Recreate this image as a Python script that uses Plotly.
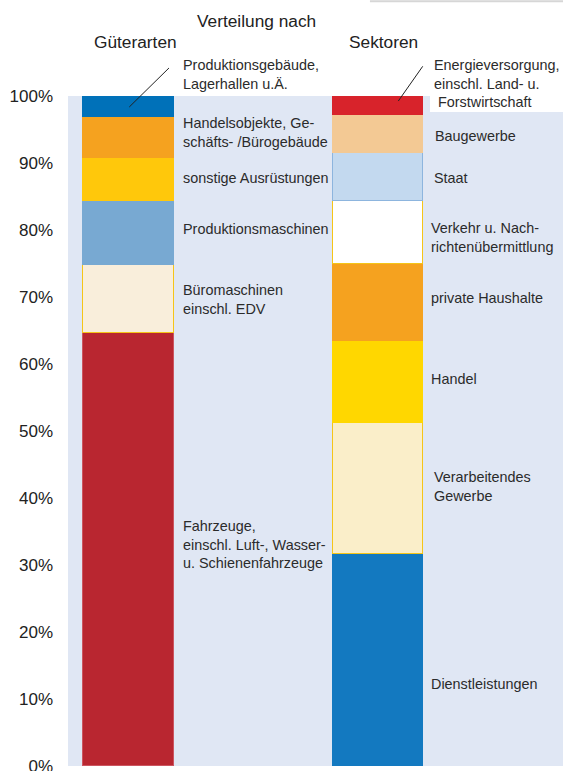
import plotly.graph_objects as go

# ---------------- data ----------------
bars = ["Güterarten", "Sektoren"]

left_labels = [
    "Fahrzeuge,<br>einschl. Luft-, Wasser-<br>u. Schienenfahrzeuge",
    "Büromaschinen<br>einschl. EDV",
    "Produktionsmaschinen",
    "sonstige Ausrüstungen",
    "Handelsobjekte, Ge-<br>schäfts- /Bürogebäude",
    "Produktionsgebäude,<br>Lagerhallen u.Ä.",
]
left_values = [64.6, 10.2, 9.5, 6.4, 6.2, 3.1]

right_labels = [
    "Dienstleistungen",
    "Verarbeitendes<br>Gewerbe",
    "Handel",
    "private Haushalte",
    "Verkehr u. Nach-<br>richtenübermittlung",
    "Staat",
    "Baugewerbe",
    "Energieversorgung,<br>einschl. Land- u.<br> Forstwirtschaft",
]
right_values = [31.7, 19.5, 12.3, 11.4, 9.45, 7.15, 5.6, 2.9]

y_ticks = [0, 10, 20, 30, 40, 50, 60, 70, 80, 90, 100]
y_tick_text = ["0%", "10%", "20%", "30%", "40%", "50%", "60%", "70%", "80%", "90%", "100%"]

# ---------------- styles ----------------
left_fill = ["#b92630", "#f9eedb", "#78a9d2", "#ffc80b", "#f5a21f", "#0071b9"]
left_line = ["#cc5560", "#f5c518", "#78a9d2", "#ffc80b", "#f5a21f", "#0071b9"]
right_fill = ["#1379c0", "#faeec9", "#ffd700", "#f5a21f", "#ffffff", "#c3d9ef", "#f3c994", "#d8232b"]
right_line = ["#1379c0", "#f5c518", "#ffd700", "#f5a21f", "#f5c518", "#8db5de", "#f3c994", "#d8232b"]

# label positions (fraction of plot height) and x shift from bar edge in px
left_label_y = [0.330, 0.697, 0.801, 0.878, 0.946, 1.032]
left_label_dx = [7, 7, 7, 7, 7, 7]
right_label_y = [0.122, 0.417, 0.577, 0.698, 0.789, 0.878, 0.941, 1.019]
right_label_dx = [6, 9, 6, 6, 6, 9, 10, 9]

FONT = "Liberation Sans, Arial, sans-serif"
BAR_W = 0.3626
TXT = "#2b2b2b"

fig = go.Figure()
for vals, fills, lines, idx in [(left_values, left_fill, left_line, 0),
                                (right_values, right_fill, right_line, 1)]:
    for v, f, l in zip(vals, fills, lines):
        fig.add_trace(go.Bar(
            x=[bars[idx]], y=[v], width=BAR_W,
            marker=dict(color=f, line=dict(color=l, width=1)),
            showlegend=False, hoverinfo="skip",
        ))

annotations = []
for labels, ys, dxs, idx in [(left_labels, left_label_y, left_label_dx, 0),
                             (right_labels, right_label_y, right_label_dx, 1)]:
    for t, y, dx in zip(labels, ys, dxs):
        annotations.append(dict(
            x=idx + BAR_W / 2, y=y, xref="x", yref="paper", text=t,
            showarrow=False, xanchor="left", yanchor="middle", align="left",
            xshift=dx, font=dict(family=FONT, size=14.4, color=TXT),
        ))

# headers
annotations.append(dict(x=0.3798, y=1.1115, xref="paper", yref="paper",
                        text="Verteilung nach", showarrow=False,
                        xanchor="center", yanchor="middle",
                        font=dict(family=FONT, size=17.3, color="#222222")))
annotations.append(dict(x=0.03, y=1.0801, xref="x", yref="paper",
                        text=bars[0], showarrow=False,
                        xanchor="center", yanchor="middle",
                        font=dict(family=FONT, size=17.3, color="#222222")))
annotations.append(dict(x=1.0246, y=1.0801, xref="x", yref="paper",
                        text=bars[1], showarrow=False,
                        xanchor="center", yanchor="middle",
                        font=dict(family=FONT, size=17.3, color="#222222")))

shapes = [
    # white box behind the top-right label
    dict(type="rect", xref="paper", yref="paper", x0=0.7313, x1=1.0,
         y0=0.976, y1=1.0, fillcolor="white", line=dict(width=0), layer="below"),
    # leader lines
    dict(type="line", xref="paper", yref="paper", x0=0.1238, y0=0.9836, x1=0.2040, y1=1.0418,
         line=dict(color="#222222", width=1)),
    dict(type="line", xref="paper", yref="paper", x0=0.6673, y0=0.9925, x1=0.7166, y1=1.0443,
         line=dict(color="#222222", width=1)),
    # faint line at the very top right
    dict(type="line", xref="paper", yref="paper", x0=0.61, y0=1.1413, x1=1.0, y1=1.1413,
         line=dict(color="#d6d6d6", width=2)),
]

fig.update_layout(
    width=563, height=771,
    margin=dict(l=68, r=0, t=96, b=5, autoexpand=False),
    paper_bgcolor="white", plot_bgcolor="#e0e7f4",
    barmode="stack", bargap=0,
    annotations=annotations, shapes=shapes,
    xaxis=dict(type="category", categoryorder="array", categoryarray=bars,
               range=[-0.2426, 1.7425], showticklabels=False, showgrid=False,
               zeroline=False, showline=False, ticks="", automargin=False),
    yaxis=dict(range=[0, 100], tickmode="array", tickvals=y_ticks, ticktext=y_tick_text,
               showgrid=False, zeroline=False, showline=False, ticks="",
               automargin=False,
               ticklabelstandoff=14, ticklabeloverflow="allow",
               tickfont=dict(family=FONT, size=17, color="#222222")),
    font=dict(family=FONT),
)

fig.write_html(
    "out.html",
    config={"displayModeBar": False},
    post_script="document.body.style.margin='0px';document.body.style.overflow='hidden';",
)
